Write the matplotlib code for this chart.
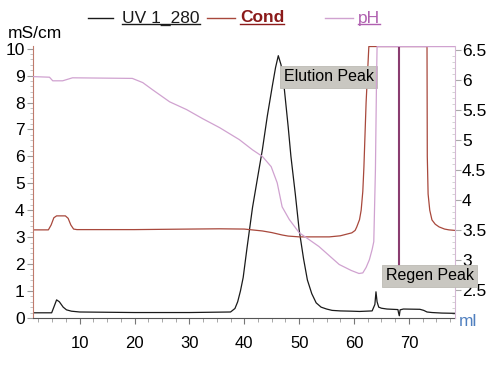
import numpy as np
import matplotlib
matplotlib.use("Agg")
import matplotlib.pyplot as plt
from matplotlib.lines import Line2D
from matplotlib.ticker import MultipleLocator, FormatStrFormatter

plt.rcParams.update({
    "font.family": ["Liberation Sans", "DejaVu Sans"],
    "font.size": 12,
})

uv_ml = [1.5, 4.9, 5.3, 5.8, 6.3, 7.0, 7.6, 8.5, 10, 20, 30, 37.5, 38.3, 38.8,
         39.3, 39.8, 40.5, 41.5, 42.5, 43.3, 44.2, 45.1, 45.7, 46.2, 46.7, 47.3,
         48.0, 48.5, 49.3, 50.0, 50.8, 51.5, 52.3, 53.1, 54, 55, 56, 57.5, 59.6,
         61, 63.3, 63.8, 64.0, 64.2, 64.5, 65, 66, 68, 68.1, 68.25, 68.4, 69,
         72, 72.7, 73.3, 74.2, 76, 78.5]
uv_val = [0.19, 0.19, 0.4, 0.67, 0.6, 0.4, 0.3, 0.25, 0.22, 0.2, 0.2, 0.22,
          0.35, 0.6, 1.0, 1.5, 2.6, 4.1, 5.3, 6.25, 7.5, 8.6, 9.3, 9.74, 9.4,
          8.5, 7.1, 6.0, 4.6, 3.27, 2.2, 1.41, 0.9, 0.56, 0.4, 0.33, 0.28, 0.26,
          0.25, 0.24, 0.26, 0.5, 0.97, 0.6, 0.4, 0.36, 0.33, 0.31, 0.2, 0.08,
          0.3, 0.33, 0.32, 0.28, 0.22, 0.2, 0.18, 0.17]

cond_ml = [1.5, 4.3, 4.8, 5.3, 5.8, 7.4, 7.9, 8.4, 8.9, 9.5, 20, 30, 35.5, 40,
           43.3, 45, 46.9, 48, 50, 55.5, 57.5, 59.6, 60.2, 60.5, 61.0, 61.3,
           61.6, 61.8, 62.2, 62.7, 73.3, 73.35, 73.5, 73.8, 74.2, 74.8, 75.5,
           76.5, 77.3, 78.4]
cond_val = [3.27, 3.27, 3.45, 3.72, 3.79, 3.79, 3.7, 3.45, 3.3, 3.28, 3.28,
            3.3, 3.31, 3.3, 3.23, 3.17, 3.08, 3.04, 3.01, 3.01, 3.05, 3.16,
            3.25, 3.38, 3.65, 4.0, 4.7, 5.6, 8.0, 12, 12, 6.0, 4.6, 4.0, 3.64,
            3.48, 3.38, 3.3, 3.27, 3.25]

ph_ml = [1.5, 4.5, 5.1, 6.9, 8.7, 19.6, 21.5, 23.3, 26.4, 29.5, 32.4, 35.5,
         39.1, 41.5, 43.3, 44.9, 46.0, 46.9, 48.2, 50.0, 53.6, 57.3, 59.5,
         60.9, 61.6, 62.2, 62.8, 63.3, 63.6, 63.9, 64.1, 64.2, 78.4]
ph_val = [6.05, 6.04, 5.98, 5.98, 6.03, 6.02, 5.95, 5.83, 5.63, 5.5, 5.35,
          5.2, 5.0, 4.83, 4.72, 4.55, 4.28, 3.88, 3.67, 3.45, 3.22, 2.92, 2.82,
          2.77, 2.78, 2.87, 3.0, 3.17, 3.3, 4.5, 6.0, 7.0, 7.0]

event_ml = [68.2]      # marca vertical (regeneracion)
event_ph_low = 2.75

XLIM = (1.5, 78.4)
YL = (0, 10.1)
YR = (2.03, 6.56)

C_UV = "#1a1a1a"
C_COND = "#a8483c"
C_PH = "#d0a2d0"
C_EV = "#8a3c70"

fig = plt.figure(figsize=(5.0, 3.65), dpi=100)
ax = fig.add_axes([0.066, 0.129, 0.844, 0.745])
ax2 = ax.twinx()

top_l = YL[1] - 0.02
top_r = YR[1] - 0.01
ax.plot(uv_ml, uv_val, color=C_UV, lw=0.9)
ax.plot(cond_ml, np.minimum(cond_val, top_l), color=C_COND, lw=0.9)
ax2.plot(ph_ml, np.minimum(ph_val, top_r), color=C_PH, lw=0.9)
ax2.vlines(event_ml, event_ph_low, top_r, color=C_EV, lw=1.5)

ax.set_xlim(*XLIM); ax.set_ylim(*YL); ax2.set_ylim(*YR)

ax.xaxis.set_major_locator(MultipleLocator(10))
ax.xaxis.set_minor_locator(MultipleLocator(2.5))
ax.yaxis.set_major_locator(MultipleLocator(1))
ax.yaxis.set_minor_locator(MultipleLocator(0.2))
ax2.yaxis.set_major_locator(MultipleLocator(0.5))
ax2.yaxis.set_minor_locator(MultipleLocator(0.1))
ax2.yaxis.set_major_formatter(FormatStrFormatter("%g"))

for a in (ax, ax2):
    a.spines["top"].set_visible(False)
ax.spines["left"].set_color("#c07a6c")
ax.spines["bottom"].set_color("#555555")
ax.spines["right"].set_visible(False)
ax2.spines["left"].set_visible(False)
ax2.spines["bottom"].set_visible(False)
ax2.spines["right"].set_color("#d4b8d4")

ax.tick_params(axis="x", which="major", length=4, color="#777", pad=9, labelsize=12)
ax.tick_params(axis="x", which="minor", length=3, color="#999")
ax.tick_params(axis="y", which="major", length=4, color="#999", pad=2, labelsize=12.5)
ax.tick_params(axis="y", which="minor", length=2, color="#bbb")
ax2.tick_params(axis="y", which="major", length=4, color="#aaa", pad=1, labelsize=12.5)
ax2.tick_params(axis="y", which="minor", length=2, color="#ccc", direction="in")

box = dict(boxstyle="square,pad=0.22", facecolor="#c9c7c1", edgecolor="#bdbbb5", lw=0.6)
ax.text(47.2, 8.96, "Elution Peak", fontsize=11.5, ha="left", va="center", bbox=box, zorder=5)
ax2.text(65.8, 2.73, "Regen Peak", fontsize=11.5, ha="left", va="center", bbox=box,
         zorder=5, clip_on=False)

fig.text(8 / 500, 1 - 33 / 365, "mS/cm", fontsize=12.5, ha="left", va="center")
fig.text(459 / 500, 1 - 321 / 365, "ml", fontsize=12.5, ha="left", va="center", color="#4f7fbf")

# leyenda superior con subrayado
ly = 1 - 18 / 365
items = [(88, 113, C_UV, 122, "UV 1_280", "#1a1a1a", "normal"),
         (207, 235, C_COND, 240, "Cond", "#8b1a1a", "bold"),
         (325, 353, C_PH, 358, "pH", "#b060b0", "normal")]
texts = []
for x0, x1, lc, tx, lab, tc, fw in items:
    fig.add_artist(Line2D([x0 / 500, x1 / 500], [ly, ly], color=lc, lw=1.0,
                          transform=fig.transFigure))
    t = fig.text(tx / 500, ly, lab, fontsize=12.5, color=tc, fontweight=fw,
                 ha="left", va="center")
    texts.append(t)

fig.canvas.draw()
r = fig.canvas.get_renderer()
for t in texts:
    bb = t.get_window_extent(renderer=r).transformed(fig.transFigure.inverted())
    fig.add_artist(Line2D([bb.x0, bb.x1], [bb.y0 + 0.004, bb.y0 + 0.004],
                          color=t.get_color(), lw=1.0, transform=fig.transFigure))

fig.savefig("out.png", dpi=100, facecolor="white")
